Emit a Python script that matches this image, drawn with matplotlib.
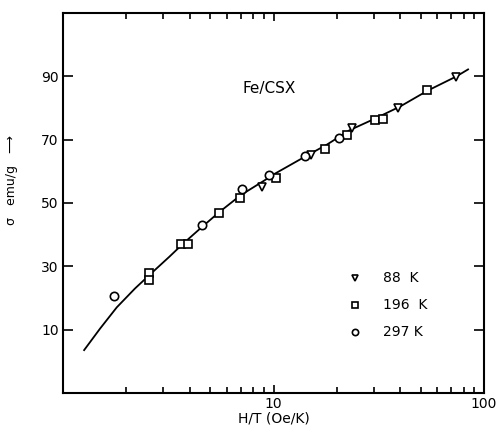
import matplotlib
matplotlib.use("Agg")
import matplotlib.pyplot as plt
from matplotlib.ticker import LogLocator, NullFormatter, FixedLocator

# datos
t88_x = [8.8, 15.1, 23.6, 38.9, 73.9]
t88_y = [55.0, 65.3, 73.8, 80.0, 89.7]

t196_x = [2.57, 2.57, 3.64, 3.93, 5.5, 6.9, 10.3, 17.6, 22.3, 30.3, 33.3, 53.9]
t196_y = [27.8, 25.6, 36.9, 36.9, 46.9, 51.6, 57.8, 67.2, 71.6, 76.2, 76.4, 85.6]

t297_x = [1.74, 4.57, 7.1, 9.5, 14.1, 20.5]
t297_y = [20.6, 43.1, 54.4, 58.8, 64.7, 70.6]

curva_x = [1.26, 1.5, 1.8, 2.2, 2.6, 3.2, 3.7, 4.5, 5.5, 7.0, 9.0, 10.0,
           14.0, 18.0, 23.0, 30.0, 40.0, 54.0, 74.0, 84.0]
curva_y = [3.5, 10.3, 17.0, 23.0, 27.5, 33.0, 37.0, 42.0, 47.0, 52.5, 57.0,
           59.0, 64.5, 68.5, 73.0, 76.5, 80.5, 85.5, 90.0, 92.2]

yticks = [10, 30, 50, 70, 90]
etiquetas = ["88  K", "196  K", "297 K"]

fig = plt.figure(figsize=(5.0, 4.36), dpi=100)
ax = fig.add_axes([0.126, 0.099, 0.842, 0.871])

ax.plot(curva_x, curva_y, color="k", lw=1.3, zorder=2)

mk = dict(mfc="white", mec="k", mew=1.2, ms=6, ls="none", zorder=3)
ax.plot(t88_x, t88_y, marker="v", **mk)
ax.plot(t196_x, t196_y, marker="s", **mk)
ax.plot(t297_x, t297_y, marker="o", **mk)

ax.set_xscale("log")
ax.set_xlim(1.0, 100)
ax.set_ylim(-10, 110)

ax.xaxis.set_major_locator(FixedLocator([10, 100]))
ax.set_xticklabels(["10", "100"], fontsize=10)
ax.xaxis.set_minor_locator(LogLocator(base=10, subs=range(2, 10)))
ax.xaxis.set_minor_formatter(NullFormatter())
ax.set_yticks(yticks)
ax.set_yticklabels([str(v) for v in yticks], fontsize=10)

ax.tick_params(which="both", direction="in", top=True, right=True, width=1.2)
ax.tick_params(axis="y", which="major", length=7, pad=3)
ax.tick_params(axis="x", which="major", length=6, pad=3)
ax.tick_params(which="minor", length=4)
for s in ax.spines.values():
    s.set_linewidth(1.5)

ax.set_xlabel("H/T (Oe/K)", fontsize=10, labelpad=0)
ax.set_ylabel("σ   emu/g   ⟶", fontsize=9)
ax.yaxis.set_label_coords(-0.108, 0.56)

ax.text(7.1, 86.3, "Fe/CSX", fontsize=11, ha="left", va="center")

# leyenda manual
leg_y = [26.3, 17.8, 9.1]
for m, yy, lab in zip(["v", "s", "o"], leg_y, etiquetas):
    ax.plot([24.4], [yy], marker=m, mfc="white", mec="k", mew=1.2, ms=4.5)
    ax.text(33.0, yy, lab, fontsize=10, ha="left", va="center")

fig.savefig("out.png", dpi=100)
